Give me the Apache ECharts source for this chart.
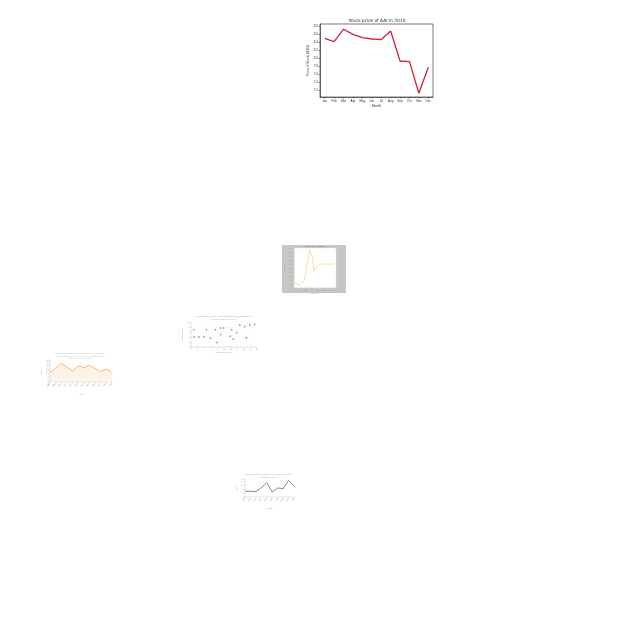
<!DOCTYPE html>
<html>
<head>
<meta charset="utf-8">
<script src="https://cdn.jsdelivr.net/npm/echarts@6/dist/echarts.min.js"></script>
<style>html,body{margin:0;padding:0;background:#fff}#c{width:640px;height:640px}</style>
</head>
<body>
<div id="c"></div>
<script>
// ---- main chart: stock price ----
var months = ['Jan','Feb','Mar','Apr','May','Jun','Jul','Aug','Sep','Oct','Nov','Dec'];
var stockPrice = [8.49, 8.41, 8.72, 8.59, 8.51, 8.475, 8.46, 8.675, 7.925, 7.91, 7.12, 7.77];
var stockTicks = [7.2, 7.4, 7.6, 7.8, 8.0, 8.2, 8.4, 8.6, 8.8];

// ---- small chart A (grey panel, yellow line) ----
var aX = [1, 5, 10, 13.5, 16, 18.5, 20, 24, 28, 32, 36, 40];
var aY = [0.14, 0.06, 0.17, 0.63, 0.96, 0.75, 0.42, 0.56, 0.6, 0.6, 0.6, 0.6];

// ---- small chart B (scatter) ----
var bX = [0.9, 0.9, 2.4, 3.9, 4.7, 5.9, 7.4, 7.9, 8.9, 9.9, 9.0, 11.9, 12.3, 12.8, 13.8, 14.8, 16.3, 16.8, 17.8, 19.3];
var bY = [6.9, 4.0, 4.0, 4.0, 6.9, 3.5, 6.9, 1.8, 7.6, 7.6, 5.0, 4.3, 6.9, 3.1, 5.7, 8.8, 8.2, 3.7, 8.8, 9.1];

// ---- small chart C (orange area) ----
var cCats = ['2008','2009','2010','2011','2012','2013','2014','2015','2016','2017','2018','2019'];
var cVals = [9.5, 14, 18.5, 15, 11, 16, 14.5, 16.5, 13.5, 10.5, 13, 9.5];

// ---- small chart D (grey line) ----
var dCats = ['Jan','Feb','Mar','Apr','May','Jun','Jul','Aug','Sep','Oct'];
var dVals = [5.7, 5.7, 5.5, 9.3, 14.4, 5.0, 9.0, 8.4, 16.5, 11.0];

function tinyAxis(gi, extra) {
  var o = {
    gridIndex: gi,
    axisLine: {show: true, lineStyle: {color: '#bbb', width: 0.4}},
    axisTick: {show: true, length: 1, lineStyle: {color: '#bbb', width: 0.4}},
    axisLabel: {fontSize: 2, color: '#999', margin: 1.5},
    splitLine: {show: false},
    nameTextStyle: {fontSize: 2.2, color: '#999'}
  };
  for (var k in extra) o[k] = extra[k];
  return o;
}

var chart = echarts.init(document.getElementById('c'), null, {renderer: 'canvas'});
chart.setOption({
  backgroundColor: '#fff',
  animation: false,
  graphic: [{
    type: 'rect', z: -10, silent: true,
    shape: {x: 282, y: 245, width: 64, height: 48},
    style: {fill: '#c6c6c6'}
  }],
  title: [
    {text: 'Stock price of AAI in 2010', left: 377, top: 18.5, textAlign: 'center', padding: 0,
     textStyle: {fontSize: 4.4, fontWeight: 'normal', color: '#222', fontFamily: 'DejaVu Sans'}},
    {text: 'Temperature Variation', left: 315, top: 245.3, textAlign: 'center', padding: 0,
     textStyle: {fontSize: 2, fontWeight: 'normal', color: '#777'}},
    {text: 'Average number of daily observations recorded at each station\nfor every month of the year', left: 223, top: 315.5, textAlign: 'center', padding: 0,
     textStyle: {fontSize: 2, lineHeight: 2.6, fontWeight: 'normal', color: '#aaa'}},
    {text: 'Number of visitors to the national park per year (2008-2019)\nshowing seasonal and annual changes across the period\nrecorded by the park service', left: 80, top: 352.5, textAlign: 'center', padding: 0,
     textStyle: {fontSize: 1.9, lineHeight: 2.4, fontWeight: 'normal', color: '#bbb'}},
    {text: 'Monthly sales of the product over the period of analysis\nin thousands of units', left: 268, top: 473.5, textAlign: 'center', padding: 0,
     textStyle: {fontSize: 1.9, lineHeight: 2.4, fontWeight: 'normal', color: '#aaa'}}
  ],
  grid: [
    {left: 320, top: 24, width: 113, height: 73, show: true, borderColor: '#222', borderWidth: 0.6, backgroundColor: '#fff'},
    {left: 294, top: 248, width: 42, height: 40, show: true, borderColor: '#ddd', borderWidth: 0.4, backgroundColor: '#fff'},
    {left: 191, top: 322, width: 66, height: 25, show: false},
    {left: 50, top: 360, width: 62, height: 22, show: false},
    {left: 245, top: 479, width: 49, height: 18, show: false}
  ],
  xAxis: [
    {gridIndex: 0, type: 'category', data: months, boundaryGap: true,
     axisLine: {lineStyle: {color: '#222', width: 0.6}},
     axisTick: {show: true, alignWithLabel: true, length: 1.5, lineStyle: {color: '#222', width: 0.5}},
     axisLabel: {fontSize: 3, color: '#333', margin: 2.2, interval: 0},
     name: 'Month', nameLocation: 'middle', nameGap: 7.5,
     nameTextStyle: {fontSize: 3.4, color: '#333'}},
    tinyAxis(1, {type: 'value', min: 0, max: 42, interval: 6, name: 'Time (s)', nameLocation: 'middle', nameGap: 3.5}),
    tinyAxis(2, {type: 'value', min: 0, max: 20, interval: 2, name: 'Month of the year', nameLocation: 'middle', nameGap: 4}),
    tinyAxis(3, {type: 'category', data: cCats, boundaryGap: false,
      axisLabel: {fontSize: 2, color: '#999', margin: 1.5, rotate: 45, interval: 0},
      name: 'Year', nameLocation: 'middle', nameGap: 11}),
    tinyAxis(4, {type: 'category', data: dCats, boundaryGap: false,
      axisLabel: {fontSize: 2, color: '#999', margin: 1.5, rotate: 45, interval: 0},
      name: 'Month', nameLocation: 'middle', nameGap: 10})
  ],
  yAxis: [
    {gridIndex: 0, type: 'value', min: 7.025, max: 8.85,
     axisLine: {show: true, lineStyle: {color: '#222', width: 0.6}},
     axisTick: {show: true, length: 1.5, customValues: stockTicks, lineStyle: {color: '#222', width: 0.5}},
     axisLabel: {fontSize: 3, color: '#333', margin: 2.2, customValues: stockTicks,
                 formatter: function (v) { return v.toFixed(1); }},
     splitLine: {show: false},
     name: 'Price of Stock (USD)', nameLocation: 'middle', nameGap: 9,
     nameTextStyle: {fontSize: 3.4, color: '#333'}},
    tinyAxis(1, {type: 'value', min: 0, max: 1, interval: 0.1, name: 'Temp', nameLocation: 'middle', nameGap: 5}),
    tinyAxis(2, {type: 'value', min: 0, max: 10, interval: 2, name: 'Observations', nameLocation: 'middle', nameGap: 4,
      splitLine: {show: true, lineStyle: {color: '#eee', width: 0.4}}}),
    tinyAxis(3, {type: 'value', min: 0, max: 22, interval: 2, name: 'Visitors', nameLocation: 'middle', nameGap: 8}),
    tinyAxis(4, {type: 'value', min: 0, max: 18, interval: 4, name: 'Sales', nameLocation: 'middle', nameGap: 5})
  ],
  series: [
    {type: 'line', xAxisIndex: 0, yAxisIndex: 0, data: stockPrice, symbol: 'none',
     lineStyle: {color: '#d4213a', width: 1.3}},
    {type: 'line', xAxisIndex: 1, yAxisIndex: 1, data: aX.map(function (x, i) { return [x, aY[i]]; }), symbol: 'none',
     lineStyle: {color: '#f4d88c', width: 0.8}},
    {type: 'scatter', xAxisIndex: 2, yAxisIndex: 2, data: bX.map(function (x, i) { return [x, bY[i]]; }),
     symbolSize: 1.8, itemStyle: {color: '#8a8a8a'}},
    {type: 'line', xAxisIndex: 3, yAxisIndex: 3, data: cVals, symbol: 'none',
     lineStyle: {color: '#f0a35a', width: 0.8}, areaStyle: {color: '#fdeedf'}},
    {type: 'line', xAxisIndex: 4, yAxisIndex: 4, data: dVals, symbol: 'none',
     lineStyle: {color: '#555', width: 0.7}}
  ]
});
</script>
</body>
</html>
